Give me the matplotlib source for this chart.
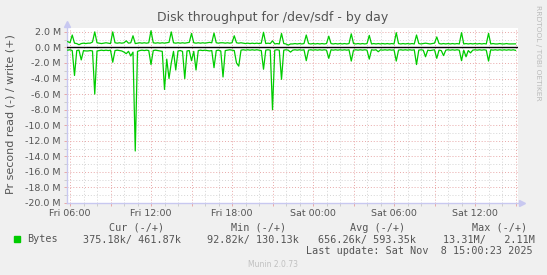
import numpy as np
import pandas as pd
import matplotlib
matplotlib.use("Agg")
import matplotlib.pyplot as plt
import matplotlib.dates as mdates
from matplotlib.ticker import MultipleLocator, FuncFormatter

# munin disk throughput, 10 minute samples, values in MB/s
start = "2025-11-07 05:50"
step = "10min"

write_m = [
    0.75, 0.6, 1.6, 0.55, 0.5, 0.35, 0.5, 0.55, 0.5, 0.55,
    0.55, 0.7, 2.0, 0.6, 0.55, 0.5, 0.55, 0.6, 0.55, 0.5,
    2.0, 0.6, 0.55, 0.6, 0.55, 0.6, 0.85, 0.55, 0.6, 1.5,
    0.5, 0.55, 0.6, 0.55, 0.6, 0.55, 0.6, 2.15, 0.6, 0.55,
    0.6, 0.55, 0.6, 0.55, 0.6, 0.65, 2.0, 0.6, 0.55, 0.6,
    0.55, 0.6, 0.55, 0.6, 0.65, 1.8, 0.6, 0.55, 0.6, 0.55,
    0.6, 0.55, 0.6, 0.65, 0.6, 1.85, 0.6, 0.55, 0.6, 0.6,
    0.55, 0.6, 0.55, 0.6, 1.5, 0.6, 0.55, 0.6, 0.55, 0.5,
    0.55, 0.5, 0.55, 0.5, 0.55, 0.5, 0.55, 1.95, 0.5, 0.55,
    0.5, 0.85, 0.45, 0.5, 0.45, 1.8, 0.5, 0.45, 0.3, 0.45,
    0.45, 0.5, 0.45, 0.5, 0.45, 0.5, 1.6, 0.5, 0.45, 0.5,
    0.45, 0.5, 0.45, 0.5, 0.45, 0.5, 1.45, 0.5, 0.45, 0.5,
    0.45, 0.5, 0.45, 0.5, 0.45, 0.5, 1.75, 0.5, 0.45, 0.5,
    0.45, 0.5, 0.45, 0.5, 1.55, 0.45, 0.5, 0.45, 0.5, 0.45,
    0.5, 0.45, 0.5, 0.45, 0.5, 0.45, 1.9, 0.5, 0.45, 0.5,
    0.45, 0.5, 0.45, 0.5, 0.45, 1.6, 0.5, 0.45, 0.5, 0.55,
    0.5, 0.45, 0.5, 0.55, 1.35, 0.5, 0.45, 0.5, 0.45, 0.5,
    0.45, 0.5, 0.45, 0.5, 0.45, 1.9, 0.45, 0.5, 0.45, 0.5,
    0.45, 0.5, 0.45, 0.5, 0.45, 0.5, 0.45, 1.8, 0.45, 0.5,
    0.45, 0.45, 0.5, 0.45, 0.45, 0.5, 0.45, 0.45, 0.45, 0.46,
]

read_m = [
    0.35, 0.3, 0.4, 3.6, 0.4, 0.35, 1.6, 0.4, 0.45, 0.45,
    0.4, 0.45, 6.0, 0.45, 0.4, 0.35, 0.4, 0.35, 0.4, 0.35,
    1.9, 0.4, 0.35, 0.4, 0.45, 0.6, 0.8, 0.5, 1.1, 0.6,
    13.31, 0.5, 0.4, 0.35, 0.4, 0.35, 0.4, 2.2, 0.4, 0.35,
    0.4, 0.45, 0.5, 5.4, 1.5, 4.0, 2.0, 0.5, 2.9, 0.45,
    0.4, 0.5, 4.0, 0.45, 0.4, 1.7, 0.5, 2.9, 0.4, 0.35,
    0.4, 0.35, 0.4, 0.45, 0.4, 2.6, 0.4, 0.35, 0.45, 3.8,
    0.4, 0.35, 0.3, 0.35, 0.4, 2.0, 2.4, 0.35, 0.3, 0.35,
    0.3, 0.35, 0.3, 0.35, 0.3, 0.35, 0.4, 2.8, 0.35, 0.3,
    0.35, 8.0, 0.35, 0.3, 0.35, 4.1, 0.35, 0.3, 0.35, 0.6,
    0.35, 0.3, 0.35, 0.3, 0.35, 0.3, 1.7, 0.35, 0.3, 0.35,
    0.3, 0.35, 0.3, 0.35, 0.3, 0.35, 1.4, 0.3, 0.35, 0.3,
    0.35, 0.3, 0.35, 0.3, 0.35, 0.3, 1.75, 0.35, 0.3, 0.35,
    0.3, 0.35, 0.3, 0.35, 1.5, 0.3, 0.35, 0.3, 0.55, 0.3,
    0.35, 0.3, 0.35, 0.3, 0.35, 0.3, 1.75, 0.35, 0.3, 0.35,
    0.3, 0.35, 0.3, 0.35, 0.3, 2.2, 0.35, 0.3, 0.35, 1.2,
    0.35, 0.4, 0.35, 0.3, 1.4, 0.35, 0.4, 1.05, 0.35, 0.3,
    0.35, 0.3, 0.35, 0.3, 0.35, 1.7, 0.35, 1.2, 0.4, 0.7,
    0.35, 0.3, 0.35, 0.3, 0.35, 0.3, 0.35, 1.75, 0.3, 0.35,
    0.3, 0.35, 0.3, 0.35, 0.3, 0.35, 0.3, 0.35, 0.3, 0.375,
]

x_range = ["2025-11-07 05:46:40", "2025-11-08 15:11:00"]
y_range = [-20.0e6, 2.5e6]

headers = ["Cur (-/+)", "Min (-/+)", "Avg (-/+)", "Max (-/+)"]
series_name = "Bytes"
values = ["375.18k/ 461.87k", "92.82k/ 130.13k", "656.26k/ 593.35k", "13.31M/   2.11M"]
last_update = "Last update: Sat Nov  8 15:00:23 2025"

W, H = 547, 275
green = "#00cc00"
txt = "#555555"
mono = "DejaVu Sans Mono"


def fx(x):
    return x / W


def fy(y):
    return 1 - y / H


fig = plt.figure(figsize=(W / 100, H / 100), dpi=100, facecolor="#f0f0f0")
ax = fig.add_axes([fx(67), fy(203), 451 / W, 175 / H])
ax.set_facecolor("white")

times = pd.date_range(start, periods=len(write_m), freq=step)
ax.plot(times, np.array(write_m) * 1e6, color=green, lw=0.9, zorder=3)
ax.plot(times, -np.array(read_m) * 1e6, color=green, lw=0.9, zorder=3)
ax.axhline(0, color="black", lw=1.0, zorder=4)

ax.set_xlim(pd.Timestamp(x_range[0]), pd.Timestamp(x_range[1]))
ax.set_ylim(*y_range)

ax.xaxis.set_major_locator(mdates.HourLocator(byhour=range(0, 24, 3)))
ax.xaxis.set_minor_locator(mdates.HourLocator())
ax.xaxis.set_major_formatter(FuncFormatter(
    lambda v, p: mdates.num2date(v).strftime("%a %H:%M") if mdates.num2date(v).hour % 6 == 0 else ""))
ax.yaxis.set_major_locator(MultipleLocator(2e6))
ax.yaxis.set_minor_locator(MultipleLocator(1e6))
ax.yaxis.set_major_formatter(FuncFormatter(lambda v, p: f"{v / 1e6:.1f} M"))

ax.set_axisbelow(True)
ax.grid(which="major", color="#e8a8a8", linestyle=(0, (1, 2)), lw=0.7)
ax.grid(which="minor", color="#d4d4d4", linestyle=(0, (1, 2)), lw=0.7)
ax.tick_params(which="major", direction="out", length=2.5, width=0.7, color="#e8a8a8",
               labelsize=6.8, labelcolor=txt, pad=2)
ax.tick_params(which="minor", direction="out", length=2, width=0.7, color="#cccccc")

for s in ["top", "right"]:
    ax.spines[s].set_visible(False)
for s in ["left", "bottom"]:
    ax.spines[s].set_color("#c8c8f0")
    ax.spines[s].set_linewidth(1.0)
ax.plot([0], [1.025], marker="^", ms=4, color="#c8c8f0", transform=ax.transAxes, clip_on=False)
ax.plot([1.008], [0], marker=">", ms=4, color="#c8c8f0", transform=ax.transAxes, clip_on=False)

fig.text(fx(273), fy(18), "Disk throughput for /dev/sdf - by day", ha="center", va="center",
         fontsize=9, color=txt)
fig.text(fx(11), fy(114), "Pr second read (-) / write (+)", rotation=90, ha="center", va="center",
         fontsize=8, color=txt)
fig.text(fx(538), fy(5), "RRDTOOL / TOBI OETIKER", rotation=270, ha="center", va="top",
         fontsize=5.4, color="#bbbbbb")

# legend block
fig.patches.append(plt.Rectangle((fx(14), fy(242)), 6 / W, 6 / H, transform=fig.transFigure,
                                 color=green))
fig.text(fx(27), fy(239.5), series_name, ha="left", va="center", fontsize=7.25, family=mono, color=txt)
head_right = [164.5, 286.5, 405, 527]
val_left = [83, 207, 318, 443]
for h, xr in zip(headers, head_right):
    fig.text(fx(xr), fy(228), h, ha="right", va="center", fontsize=7.25, family=mono, color=txt)
for v, xl in zip(values, val_left):
    fig.text(fx(xl), fy(239.5), v, ha="left", va="center", fontsize=7.25, family=mono, color=txt)
fig.text(fx(533), fy(251.5), last_update, ha="right", va="center", fontsize=7.25, family=mono, color=txt)
fig.text(fx(272.5), fy(264.5), "Munin 2.0.73", ha="center", va="center", fontsize=5.5, color="#c0c0c0")

fig.savefig("out.png", dpi=100, facecolor=fig.get_facecolor())
